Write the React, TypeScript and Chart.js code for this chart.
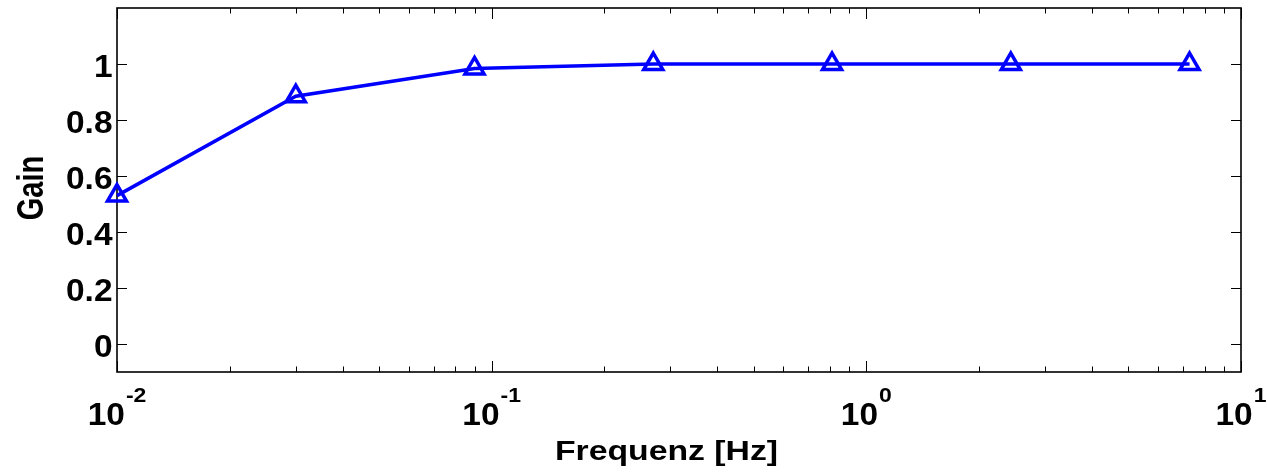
import { useEffect, useRef } from 'react';
import { Chart, registerables } from 'chart.js';

Chart.register(...registerables);

// Measured frequency response
const FREQUENCIES = [0.01, 0.03, 0.09, 0.27, 0.81, 2.43, 7.29];
const GAIN = [0.53, 0.885, 0.984, 1.0, 1.0, 1.0, 1.0];

// Axis ticks and labels
const Y_TICKS = [0, 0.2, 0.4, 0.6, 0.8, 1];
const Y_TICK_LABELS = ['0', '0.2', '0.4', '0.6', '0.8', '1'];
const X_DECADE_EXPONENTS = [-2, -1, 0, 1];
const X_MINOR_FACTORS = [2, 3, 4, 5, 6, 7, 8, 9];
const X_TITLE = 'Frequenz [Hz]';
const Y_TITLE = 'Gain';

const FONT_FAMILY = '"Liberation Sans", Arial, Helvetica, sans-serif';
const LINE_COLOR = '#0000ff';

function stretchedText(
  ctx: CanvasRenderingContext2D,
  text: string,
  x: number,
  y: number,
  font: string,
  sx: number,
  align: CanvasTextAlign,
) {
  ctx.save();
  ctx.translate(x, y);
  ctx.scale(sx, 1);
  ctx.font = font;
  ctx.textAlign = align;
  ctx.textBaseline = 'alphabetic';
  ctx.fillStyle = '#000';
  ctx.fillText(text, 0, 0);
  ctx.restore();
}

// Box frame with inward ticks, drawn under the data line
const framePlugin = {
  id: 'matlabFrame',
  beforeDatasetsDraw(chart: any) {
    const { ctx, chartArea } = chart;
    const { left, right, top, bottom } = chartArea;
    const xs = chart.scales.x;
    const ys = chart.scales.y;
    ctx.save();
    ctx.strokeStyle = '#000';
    ctx.lineWidth = 1;
    ctx.beginPath();
    // y ticks on both sides
    for (const v of Y_TICKS) {
      const py = Math.round(ys.getPixelForValue(v)) + 0.5;
      ctx.moveTo(left, py);
      ctx.lineTo(left + 10, py);
      ctx.moveTo(right, py);
      ctx.lineTo(right - 10, py);
    }
    // x decade (major) and minor ticks on bottom and top
    for (let i = 0; i < X_DECADE_EXPONENTS.length; i++) {
      const base = Math.pow(10, X_DECADE_EXPONENTS[i]);
      const px = Math.round(xs.getPixelForValue(base)) + 0.5;
      ctx.moveTo(px, bottom);
      ctx.lineTo(px, bottom - 11);
      ctx.moveTo(px, top);
      ctx.lineTo(px, top + 11);
      if (i < X_DECADE_EXPONENTS.length - 1) {
        for (const f of X_MINOR_FACTORS) {
          const mx = Math.round(xs.getPixelForValue(base * f)) + 0.5;
          ctx.moveTo(mx, bottom);
          ctx.lineTo(mx, bottom - 5.5);
          ctx.moveTo(mx, top);
          ctx.lineTo(mx, top + 5.5);
        }
      }
    }
    ctx.stroke();
    ctx.lineWidth = 1.6;
    ctx.strokeRect(left, top, right - left, bottom - top);
    ctx.restore();
  },
  afterDraw(chart: any) {
    const { ctx, chartArea } = chart;
    const xs = chart.scales.x;
    const ys = chart.scales.y;
    const tickFont = `bold 31px ${FONT_FAMILY}`;
    const expFont = `bold 20px ${FONT_FAMILY}`;

    // y tick labels
    Y_TICKS.forEach((v, i) => {
      const py = ys.getPixelForValue(v);
      stretchedText(ctx, Y_TICK_LABELS[i], 112.5, py + 13, tickFont, 1.08, 'right');
    });

    // x tick labels as powers of ten
    for (const e of X_DECADE_EXPONENTS) {
      const px = xs.getPixelForValue(Math.pow(10, e));
      ctx.save();
      ctx.font = tickFont;
      const w1 = ctx.measureText('10').width * 1.08;
      ctx.font = expFont;
      const expText = String(e);
      const w2 = ctx.measureText(expText).width * 1.15;
      ctx.restore();
      const start = px - (w1 + w2 + 1) / 2;
      stretchedText(ctx, '10', start, 425, tickFont, 1.08, 'left');
      stretchedText(ctx, expText, start + w1 + 1, 402, expFont, 1.15, 'left');
    }

    // axis titles
    stretchedText(ctx, X_TITLE, 666.5, 460, `bold 27px ${FONT_FAMILY}`, 1.25, 'center');

    ctx.save();
    ctx.translate(43, (chartArea.top + chartArea.bottom) / 2 - 2);
    ctx.rotate(-Math.PI / 2);
    ctx.scale(1, 1.3);
    ctx.font = `bold 29px ${FONT_FAMILY}`;
    ctx.textAlign = 'center';
    ctx.textBaseline = 'alphabetic';
    ctx.fillStyle = '#000';
    ctx.fillText(Y_TITLE, 0, 0);
    ctx.restore();
  },
};

export default function App() {
  const canvasRef = useRef<HTMLCanvasElement | null>(null);

  useEffect(() => {
    if (!canvasRef.current) return;
    const chart = new Chart(canvasRef.current, {
      type: 'line',
      data: {
        datasets: [
          {
            data: FREQUENCIES.map((f, i) => ({ x: f, y: GAIN[i] })),
            borderColor: LINE_COLOR,
            borderWidth: 3.5,
            pointStyle: 'triangle',
            pointRadius: 11,
            pointBorderWidth: 3.5,
            pointBorderColor: LINE_COLOR,
            pointBackgroundColor: 'rgba(0,0,0,0)',
            tension: 0,
            clip: false as any,
          },
        ],
      },
      options: {
        animation: false,
        responsive: true,
        maintainAspectRatio: false,
        layout: { autoPadding: false, padding: { left: 117, right: 26, top: 8, bottom: 104 } },
        plugins: {
          legend: { display: false },
          tooltip: { enabled: false },
        },
        scales: {
          x: { type: 'logarithmic', min: 0.01, max: 10, display: false },
          y: { type: 'linear', min: -0.1, max: 1.2, display: false },
        },
      },
      plugins: [framePlugin],
    });
    return () => chart.destroy();
  }, []);

  return (
    <div style={{ position: 'absolute', left: 0, top: 0, width: 1267, height: 476, background: '#fff' }}>
      <canvas ref={canvasRef} />
    </div>
  );
}
